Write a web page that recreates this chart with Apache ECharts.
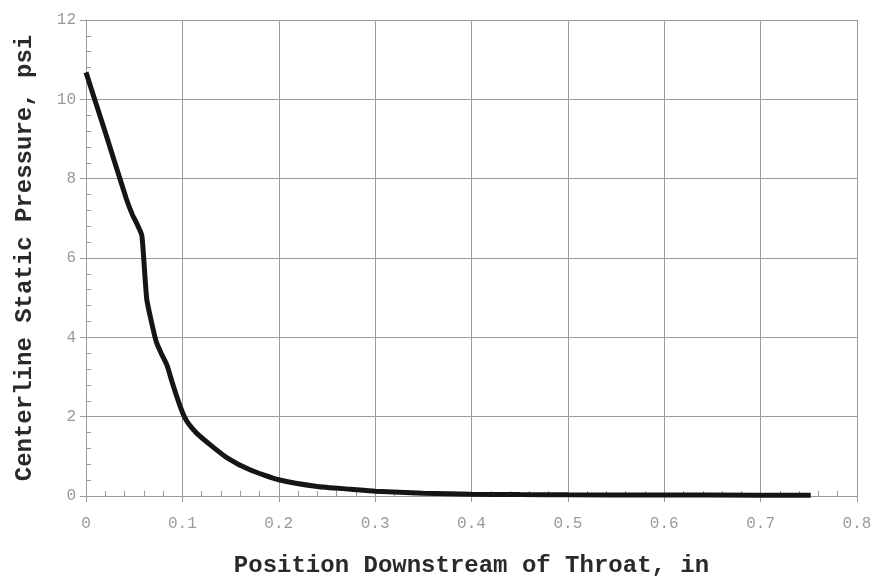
<!DOCTYPE html>
<html>
<head>
<meta charset="utf-8">
<script src="https://cdn.jsdelivr.net/npm/echarts@6/dist/echarts.min.js"></script>
<style>
  html, body { margin: 0; padding: 0; background: #fff; }
  #chart { width: 878px; height: 583px; }
</style>
</head>
<body>
<div id="chart"></div>
<script>
// 位置 (in) 与中心线静压 (psi)，读自原图
const positions = [0, 0.02, 0.042, 0.048, 0.054, 0.058, 0.063, 0.068, 0.073, 0.078, 0.084, 0.089, 0.094, 0.098, 0.102, 0.107, 0.115, 0.129, 0.146, 0.17, 0.2, 0.24, 0.275, 0.3, 0.35, 0.4, 0.45, 0.5, 0.6, 0.7, 0.752];
const pressures = [10.68, 9.17, 7.48, 7.1, 6.8, 6.56, 4.97, 4.38, 3.88, 3.6, 3.3, 2.9, 2.52, 2.24, 2.0, 1.8, 1.58, 1.29, 0.97, 0.66, 0.41, 0.24, 0.17, 0.12, 0.07, 0.045, 0.035, 0.03, 0.025, 0.02, 0.02];

const xTitle = 'Position Downstream of Throat, in';
const yTitle = 'Centerline Static Pressure, psi';

const FONT = '"Liberation Mono", "DejaVu Sans Mono", monospace';
const GRID_COLOR = '#9a9a9a';

const chart = echarts.init(document.getElementById('chart'));

// 主刻度向外、次刻度向内 -> 用两组重叠坐标轴
function mainX() {
    return {
        type: 'value', min: 0, max: 0.8, interval: 0.1, gridIndex: 0,
        name: xTitle, nameLocation: 'middle', nameGap: 58,
        nameTextStyle: { fontFamily: FONT, fontSize: 24, fontWeight: 'bold', color: '#2a2a2a' },
        axisLine: { lineStyle: { color: GRID_COLOR } },
        axisTick: { show: true, length: 6, lineStyle: { color: GRID_COLOR } },
        axisLabel: { fontFamily: FONT, fontSize: 16, color: '#9a9a9a', margin: 20,
            formatter: v => v === 0 ? '0' : v.toFixed(1) },
        splitLine: { show: true, lineStyle: { color: GRID_COLOR, width: 1 } }
    };
}
function minorX() {
    return {
        type: 'value', min: 0, max: 0.8, interval: 0.02, gridIndex: 0, position: 'bottom', offset: 0,
        axisLine: { show: false },
        axisTick: { show: true, inside: true, length: 5, lineStyle: { color: GRID_COLOR } },
        axisLabel: { show: false }, splitLine: { show: false }
    };
}

chart.setOption({
    animation: false,
    backgroundColor: '#fff',
    grid: { left: 86, right: 21, top: 20, bottom: 85 },
    xAxis: [mainX(), minorX()],
    yAxis: [{
        type: 'value', min: 0, max: 12, interval: 2,
        name: yTitle, nameLocation: 'middle', nameGap: 49, nameRotate: 90,
        nameTextStyle: { fontFamily: FONT, fontSize: 24, fontWeight: 'bold', color: '#2a2a2a' },
        axisLine: { show: true, lineStyle: { color: GRID_COLOR } },
        axisTick: { show: true, length: 6, lineStyle: { color: GRID_COLOR } },
        axisLabel: { fontFamily: FONT, fontSize: 16, color: '#9a9a9a', margin: 10 },
        splitLine: { show: true, lineStyle: { color: GRID_COLOR, width: 1 } }
    }, {
        type: 'value', min: 0, max: 12, interval: 0.4, position: 'left', offset: 0,
        axisLine: { show: false },
        axisTick: { show: true, inside: true, length: 5, lineStyle: { color: GRID_COLOR } },
        axisLabel: { show: false }, splitLine: { show: false }
    }],
    series: [{
        type: 'line',
        xAxisIndex: 0, yAxisIndex: 0,
        data: positions.map((x, i) => [x, pressures[i]]),
        showSymbol: false,
        smooth: 0.2,
        lineStyle: { color: '#151515', width: 5 }
    }]
});
</script>
</body>
</html>
